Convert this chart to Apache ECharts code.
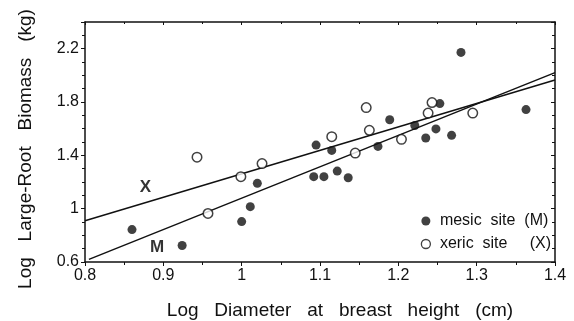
<!DOCTYPE html>
<html><head><meta charset="utf-8">
<script src="https://cdn.jsdelivr.net/npm/echarts@6/dist/echarts.min.js"></script>
<style>html,body{margin:0;padding:0;background:#fff}#c{width:574px;height:321px}</style>
</head><body><div id="c"></div>
<script>
// Data
const mesicX = [0.860,0.924,1.000,1.011,1.020,1.095,1.092,1.105,1.115,1.122,1.136,1.174,1.189,1.221,1.235,1.248,1.253,1.268,1.280,1.363];
const mesicY = [0.843,0.724,0.903,1.015,1.190,1.477,1.240,1.240,1.437,1.282,1.232,1.467,1.667,1.624,1.530,1.598,1.788,1.550,2.172,1.743];
const xericX = [0.943,0.957,0.999,1.026,1.115,1.145,1.159,1.163,1.204,1.238,1.243,1.295];
const xericY = [1.386,0.964,1.240,1.338,1.540,1.417,1.758,1.588,1.520,1.717,1.796,1.717];
const lineMX = [0.805,1.400];
const lineMY = [0.620,2.020];
const lineXX = [0.800,1.400];
const lineXY = [0.910,1.965];
const annText = ['X','M'];
const annX = [0.877,0.892];
const annY = [1.160,0.710];
const xTicks = ['0.8','0.9','1','1.1','1.2','1.3','1.4'];
const yTicks = ['0.6','1','1.4','1.8','2.2'];
const mesicName = 'mesic  site  (M)';
const xericName = 'xeric  site     (X)';

const zip = (a,b)=>a.map((v,i)=>[v,b[i]]);
const FONT = 'Liberation Sans, Arial, sans-serif';
const INK = '#111';
const chart = echarts.init(document.getElementById('c'), null, {renderer:'canvas'});
const axisLine = {show:true, lineStyle:{color:INK, width:1.5}};
chart.setOption({
  animation:false,
  backgroundColor:'#fff',
  grid:{left:85, right:19, top:22, bottom:59, containLabel:false, outerBoundsMode:'none'},
  legend:{
    orient:'vertical', right:18, top:208, itemGap:7, itemWidth:18, itemHeight:9,
    textStyle:{fontFamily:FONT, fontSize:16, color:INK},
    data:[
      {name:mesicName, icon:'circle', itemStyle:{color:INK, borderWidth:0}},
      {name:xericName, icon:'circle', itemStyle:{color:'#fff', borderColor:INK, borderWidth:1.3}}
    ]
  },
  xAxis:[{
    type:'value', min:0.8, max:1.4, interval:0.1,
    name:'Log   Diameter   at   breast   height   (cm)', nameLocation:'middle', nameGap:39,
    nameMoveOverlap:false,
    nameTextStyle:{fontFamily:FONT, fontSize:19, color:INK, padding:[0,0,0,40]},
    axisLine:axisLine, splitLine:{show:false},
    axisTick:{show:true, inside:false, length:4, lineStyle:{color:INK}},
    minorTick:{show:true, splitNumber:2, length:3, lineStyle:{color:INK}},
    axisLabel:{fontFamily:FONT, fontSize:16, color:INK, margin:6,
      formatter:v=>{const i=Math.round((v-0.8)/0.1);return xTicks[i]||'';}}
  },{
    type:'value', min:0.8, max:1.4, interval:0.1, position:'top',
    axisLine:axisLine, splitLine:{show:false}, axisLabel:{show:false},
    axisTick:{show:true, inside:true, length:3, lineStyle:{color:INK}},
    minorTick:{show:true, splitNumber:2, length:2, lineStyle:{color:INK}}
  }],
  yAxis:[{
    type:'value', min:0.6, max:2.4, interval:0.4,
    name:'Log   Large-Root   Biomass   (kg)', nameLocation:'middle', nameGap:50, nameRotate:90,
    nameTextStyle:{fontFamily:FONT, fontSize:19, color:INK, padding:[0,14,0,0]},
    axisLine:axisLine, splitLine:{show:false},
    axisTick:{show:true, inside:false, length:4, lineStyle:{color:INK}},
    minorTick:{show:true, splitNumber:4, length:3, lineStyle:{color:INK}},
    axisLabel:{fontFamily:FONT, fontSize:16, color:INK, margin:6,
      formatter:v=>{const i=Math.round((v-0.6)/0.4);return (Math.abs(v-(0.6+i*0.4))<1e-6 && yTicks[i])?yTicks[i]:'';}}
  },{
    type:'value', min:0.6, max:2.4, interval:0.4, position:'right',
    axisLine:axisLine, splitLine:{show:false}, axisLabel:{show:false},
    axisTick:{show:true, inside:true, length:4, lineStyle:{color:INK}},
    minorTick:{show:true, splitNumber:4, length:3, lineStyle:{color:INK}}
  }],
  series:[
    {name:'M line', type:'line', data:zip(lineMX,lineMY), symbol:'none', silent:true,
     lineStyle:{color:INK, width:1.5}, z:2},
    {name:'X line', type:'line', data:zip(lineXX,lineXY), symbol:'none', silent:true,
     lineStyle:{color:INK, width:1.5}, z:2},
    {name:mesicName, type:'scatter', data:zip(mesicX,mesicY), symbol:'circle', symbolSize:9,
     itemStyle:{color:INK}, z:3},
    {name:xericName, type:'scatter', data:zip(xericX,xericY), symbol:'circle', symbolSize:9.5,
     itemStyle:{color:'#fff', borderColor:INK, borderWidth:1.5}, z:3},
    {name:'ann', type:'scatter', symbol:'circle', symbolSize:0, silent:true,
     itemStyle:{color:'rgba(0,0,0,0)'},
     data:annText.map((t,i)=>({value:[annX[i],annY[i]], name:t})),
     label:{show:true, position:'inside', formatter:p=>p.name, fontFamily:FONT, fontSize:17, fontWeight:'bold', color:'#000'}, z:4}
  ]
});
</script></body></html>
